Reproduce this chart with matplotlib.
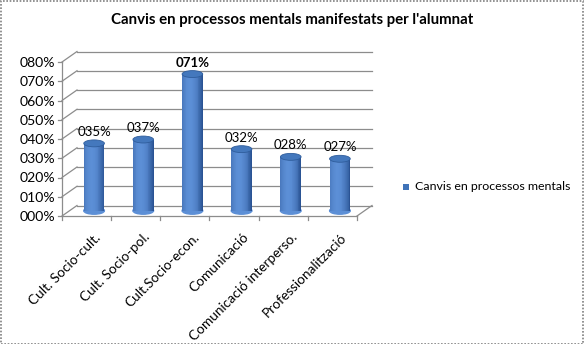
import numpy as np
import matplotlib
matplotlib.use("Agg")
import matplotlib.pyplot as plt
import matplotlib.transforms as mtransforms
from matplotlib.patches import Ellipse, Rectangle

plt.rcParams['font.family'] = ['Lato', 'DejaVu Sans']

categories = ["Cult. Socio-cult.", "Cult. Socio-pol.", "Cult.Socio-econ.",
              "Comunicació", "Comunicació interperso.", "Professionalització"]
values = [0.35, 0.37, 0.71, 0.32, 0.28, 0.27]
value_labels = ["035%", "037%", "071%", "032%", "028%", "027%"]
bold_label = [False, False, True, False, False, False]
yticks = [0.0, 0.1, 0.2, 0.3, 0.4, 0.5, 0.6, 0.7, 0.8]
ytick_labels = ["000%", "010%", "020%", "030%", "040%", "050%", "060%", "070%", "080%"]
series_name = "Canvis en processos mentals"
title = "Canvis en processos mentals manifestats per l'alumnat"

W, H = 584, 344
fig = plt.figure(figsize=(W / 100, H / 100), dpi=100)
fig.patch.set_facecolor("white")

# front plane of the plot box, in pixels
x0, x1 = 62, 357
y0, y1 = 216, 62
ax = fig.add_axes([x0 / W, 1 - y0 / H, (x1 - x0) / W, (y0 - y1) / H])
ax.set_xlim(-0.5, len(categories) - 0.5)
ax.set_ylim(0, 0.8)
ax.patch.set_visible(False)
for s in ax.spines.values():
    s.set_visible(False)

# depth offset of the back wall (pixels)
DX, DY = 15, 10.5


def shifted(dx, dy):
    return ax.transData + mtransforms.ScaledTranslation(
        dx / 100, dy / 100, fig.dpi_scale_trans)


def depth(d):
    return shifted(DX * d, DY * d)


grid_c = "#8c8c8c"
back = depth(1)
xl, xr = -0.5, len(categories) - 0.5
for t in yticks:
    # back wall gridline
    ax.plot([xl, xr], [t, t], color=grid_c, lw=0.9, transform=back, clip_on=False)
    # left side wall
    px0 = ax.transData.transform((xl, t))
    ax.plot([px0[0], px0[0] + DX], [px0[1], px0[1] + DY], color=grid_c, lw=0.9,
            transform=None, clip_on=False)
    # tick on the front axis
    ax.plot([px0[0] - 4, px0[0]], [px0[1], px0[1]], color=grid_c, lw=0.9,
            transform=None, clip_on=False)

# front axis lines and floor
ax.plot([xl, xl], [0, 0.8], color=grid_c, lw=0.9, clip_on=False)
ax.plot([xl, xr], [0, 0], color=grid_c, lw=0.9, clip_on=False)
pr = ax.transData.transform((xr, 0))
ax.plot([pr[0], pr[0] + DX], [pr[1], pr[1] + DY], color=grid_c, lw=0.9,
        transform=None, clip_on=False)
for i in range(len(categories) + 1):
    p = ax.transData.transform((i - 0.5, 0))
    ax.plot([p[0], p[0]], [p[1], p[1] - 4], color=grid_c, lw=0.9,
            transform=None, clip_on=False)

# cylinders, drawn at mid depth
mid = depth(0.5)
bw = 0.42
n_strip = 24
edge_dark = np.array([0.15, 0.31, 0.56])
centre = np.array([0.36, 0.56, 0.84])
ell_h = 0.036
for i, v in enumerate(values):
    xs = np.linspace(i - bw / 2, i + bw / 2, n_strip + 1)
    u = (xs[:-1] + xs[1:]) / 2 - i
    k = 1 - (np.abs(u + bw * 0.12) / (bw / 2 + bw * 0.12)) ** 2
    cols = [tuple(edge_dark + (centre - edge_dark) * np.clip(kk, 0, 1)) for kk in k]
    ax.add_patch(Ellipse((i, 0), bw, ell_h, color=cols[n_strip // 2 - 4],
                         transform=mid, clip_on=False, zorder=3))
    ax.bar(xs[:-1], [v] * n_strip, width=xs[1] - xs[0], align="edge", color=cols,
           linewidth=0, transform=mid, clip_on=False, zorder=4)
    ax.add_patch(Ellipse((i, v), bw, ell_h, facecolor="#4478bd",
                         edgecolor="#2f5d9c", lw=0.6, transform=mid,
                         clip_on=False, zorder=5))
    ax.text(i, v + 0.028, value_labels[i], ha="center", va="bottom",
            fontsize=9.5, color="black",
            fontweight="bold" if bold_label[i] else "normal",
            transform=mid, clip_on=False, zorder=6)

# category labels
ax.set_xticks([])
for i, c in enumerate(categories):
    ax.text(i, 0, c, rotation=45, ha="right", va="top", rotation_mode="anchor",
            fontsize=9.8, transform=shifted(8, -15), clip_on=False)

ax.set_yticks(yticks)
ax.set_yticklabels(ytick_labels, fontsize=10.1)
ax.tick_params(axis="y", length=0, pad=5)

fig.text(292 / W, 1 - 20 / H, title, ha="center", va="center",
         fontsize=10.8, fontweight="bold")

# legend
fig.patches.append(Rectangle((403 / W, 1 - 190 / H), 6 / W, 6 / H,
                             facecolor="#3f73b8", edgecolor="none",
                             transform=fig.transFigure))
fig.text(415 / W, 1 - 187 / H, series_name, ha="left", va="center", fontsize=8.9)

# dotted outer frame
fig.patches.append(Rectangle((0.5 / W, 0.5 / H), (W - 1.5) / W, (H - 1.5) / H,
                             fill=False, edgecolor="#808080", lw=1.2,
                             linestyle=(0, (1, 1)), transform=fig.transFigure))

fig.savefig("out.png", dpi=100)
